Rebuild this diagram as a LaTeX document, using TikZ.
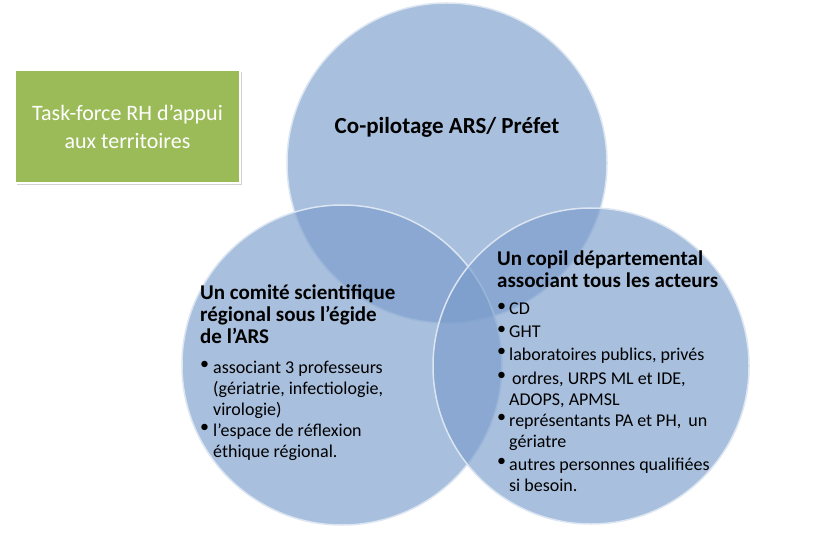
\documentclass[tikz,border=0pt]{standalone}
\usepackage{fontspec}
\setmainfont{Carlito}
\usetikzlibrary{shadows}
\definecolor{circ}{HTML}{7A9DCC}
\definecolor{circedge}{HTML}{DCE5F2}
\definecolor{green}{HTML}{9BBB59}
\begin{document}
\begin{tikzpicture}[x=1bp,y=-1bp,
  venn/.style={circle,draw=circedge,line width=1.5bp,fill=circ,fill opacity=0.65,text opacity=1,minimum size=#1},
  body/.style={anchor=north west,font=\fontsize{18bp}{21bp}\selectfont,inner sep=0pt,align=left},
  head/.style={anchor=north west,font=\bfseries\fontsize{21bp}{22bp}\selectfont,inner sep=0pt,align=left},
  bul/.style={anchor=north west,font=\fontsize{18bp}{21bp}\selectfont,inner sep=0pt}]
\useasboundingbox (0,0) rectangle (813,544);
\fill[white] (0,0) rectangle (813,544);
\node[venn=320bp] (top) at (447,163) {};
\node[venn=320bp] (left) at (342,365) {};
\node[venn=316bp] (right) at (591,366) {};
\node[font=\bfseries\fontsize{23bp}{26bp}\selectfont] (t1) at (447,127) {Co-pilotage ARS/ Préfet};
\node[draw=white,line width=1.5bp,fill=green,drop shadow={opacity=0.35},minimum width=225bp,minimum height=113bp,text=white,align=center,font=\fontsize{22bp}{28bp}\selectfont] (tf) at (127.5,126.5) {Task-force RH d’appui\\aux territoires};
% left block
\node[head] (lh) at (200,285) {Un comité scientifique\\régional sous l’égide\\de l’ARS};
\node[bul] (lb1) at (200,361) {•};
\node[body] (l1) at (213,361) {associant 3 professeurs\\(gériatrie, infectiologie,\\virologie)};
\node[bul] (lb2) at (200,424) {•};
\node[body] (l2) at (213,424) {l’espace de réflexion\\éthique régional.};
% right block
\node[head] (rh) at (497,251) {Un copil départemental\\associant tous les acteurs};
\node[bul] (rb1) at (497,303) {•};
\node[body] (r1) at (509,303) {CD};
\node[bul] (rb2) at (497,326) {•};
\node[body] (r2) at (509,326) {GHT};
\node[bul] (rb3) at (497,348) {•};
\node[body] (r3) at (509,348) {laboratoires publics, privés};
\node[bul] (rb4) at (497,372) {•};
\node[body] (r4) at (509,372) {\,ordres, URPS ML et IDE,\\ADOPS, APMSL};
\node[bul] (rb5) at (497,414) {•};
\node[body] (r5) at (509,414) {représentants PA et PH,\, un\\gériatre};
\node[bul] (rb6) at (497,458) {•};
\node[body] (r6) at (509,458) {autres personnes qualifiées\\si besoin.};
\end{tikzpicture}
\end{document}
